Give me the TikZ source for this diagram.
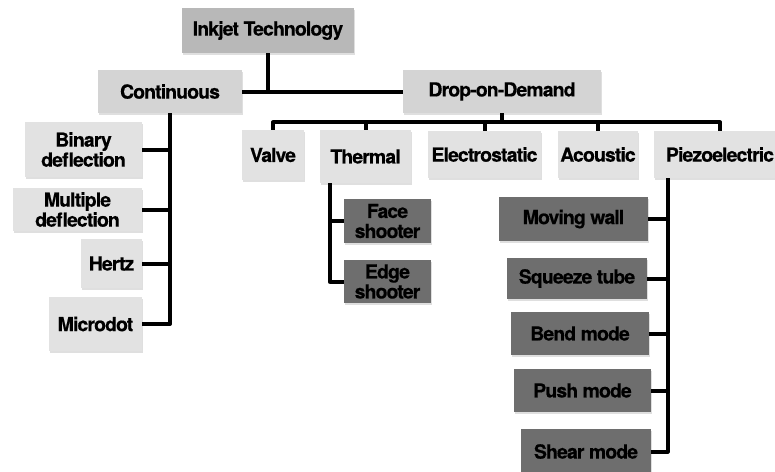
\documentclass[tikz,border=0pt]{standalone}
\usepackage{fontspec}
\setmainfont[LetterSpace=-4.5, BoldFeatures={FakeBold=0.4}]{TeX Gyre Heros}
\usepackage{xcolor}
\definecolor{rootgray}{HTML}{B8B8B8}
\definecolor{midgray}{HTML}{D4D4D4}
\definecolor{leafgray}{HTML}{E2E2E2}
\definecolor{subgray}{HTML}{6E6E6E}
\usepackage{tikz}
\usetikzlibrary{positioning,calc,shadows}

\begin{document}
\begin{tikzpicture}[x=0.5pt, y=-0.5pt, every node/.style={font=\fontsize{9.7}{10}\selectfont\bfseries},
  bx/.style={inner sep=0pt, align=center, drop shadow={shadow xshift=0.3pt, shadow yshift=-0.9pt, opacity=0.25}},
  ln/.style={line width=2pt, line join=round}]
\useasboundingbox (0,0) rectangle (775,471);
% top levels
\node[bx, fill=rootgray, minimum width=86pt, minimum height=22.5pt] (ink) at (268,30.5) {Inkjet Technology};
\node[bx, fill=midgray, minimum width=72pt, minimum height=21.5pt] (cont) at (170,91.5) {Continuous};
\node[bx, fill=midgray, minimum width=99pt, minimum height=21.5pt] (dod) at (502,91.5) {Drop-on-Demand};
% drop-on-demand kinds
\node[bx, fill=leafgray, minimum width=31pt, minimum height=25pt] (valve) at (273,155) {Valve};
\node[bx, fill=leafgray, minimum width=45.5pt, minimum height=26.5pt] (thermal) at (365.5,156.5) {Thermal};
\node[bx, fill=leafgray, minimum width=56.5pt, minimum height=23.5pt] (electro) at (484.5,154.5) {Electrostatic};
\node[bx, fill=leafgray, minimum width=40pt, minimum height=23.5pt] (acoustic) at (598,154.5) {Acoustic};
\node[bx, fill=leafgray, minimum width=66pt, minimum height=23.5pt] (piezo) at (720,154.5) {Piezoelectric};
% continuous kinds
\node[bx, fill=leafgray, minimum width=58.5pt, minimum height=27.5pt] (binary) at (83.5,149.5) {Binary\\deflection};
\node[bx, fill=leafgray, minimum width=64.5pt, minimum height=21.5pt] (multiple) at (77.5,209.5) {Multiple\\deflection};
\node[bx, fill=leafgray, minimum width=30.5pt, minimum height=24.5pt] (hertz) at (111.5,263.5) {Hertz};
\node[bx, fill=leafgray, minimum width=46.5pt, minimum height=27pt] (micro) at (95.5,324) {Microdot};
% thermal kinds
\node[bx, fill=subgray, minimum width=43.5pt, minimum height=22pt] (face) at (387.5,221) {Face\\shooter};
\node[bx, fill=subgray, minimum width=43.5pt, minimum height=21.5pt] (edge) at (387.5,281.5) {Edge\\shooter};
% piezo kinds
\node[bx, fill=subgray, minimum width=74.5pt, minimum height=22pt] (moving) at (573.5,219) {Moving wall};
\node[bx, fill=subgray, minimum width=70pt, minimum height=20.5pt] (squeeze) at (577,278.5) {Squeeze tube};
\node[bx, fill=subgray, minimum width=69pt, minimum height=21.5pt] (bend) at (580,333.5) {Bend mode};
\node[bx, fill=subgray, minimum width=68.5pt, minimum height=21.5pt] (push) at (582.5,390.5) {Push mode};
\node[bx, fill=subgray, minimum width=65pt, minimum height=22.5pt] (shear) at (586,451.5) {Shear mode};
% Connectors
\draw[ln] (ink.south) -- (ink.south |- cont.east);
\draw[ln] (cont.east) -- (dod.west);
\coordinate (bus) at ($(dod.south)+(0,9)$);
\draw[ln] (dod.south) -- (bus);
\draw[ln] (valve.north) |- (bus) -| (piezo.north);
\foreach \n in {thermal,electro,acoustic}
  \draw[ln] (\n.north) -- (\n.north |- bus);
\draw[ln] (cont.south) |- (micro.east);
\foreach \n in {binary,multiple,hertz}
  \draw[ln] (\n.east) -- (\n.east -| cont.south);
\coordinate (tbr) at ($(thermal.south west)+(10,0)$);
\draw[ln] (tbr) |- (edge.west);
\draw[ln] (face.west) -- (face.west -| tbr);
\coordinate (pbr) at ($(piezo.south west)+(14,0)$);
\draw[ln] (pbr) |- (shear.east);
\foreach \n in {moving,squeeze,bend,push}
  \draw[ln] (\n.east) -- (\n.east -| pbr);
\end{tikzpicture}
\end{document}
